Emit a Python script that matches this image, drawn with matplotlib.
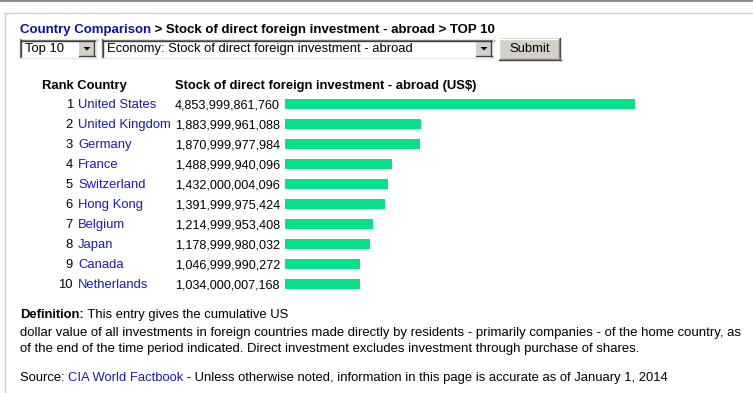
import matplotlib
matplotlib.use("Agg")
import matplotlib.pyplot as plt
import matplotlib.transforms as mtransforms
from matplotlib.patches import Rectangle, Polygon

plt.rcParams['font.family'] = ['Liberation Sans', 'DejaVu Sans']

# data
ranks = [1, 2, 3, 4, 5, 6, 7, 8, 9, 10]
countries = ["United States", "United Kingdom", "Germany", "France", "Switzerland",
             "Hong Kong", "Belgium", "Japan", "Canada", "Netherlands"]
values = [4853999861760, 1883999961088, 1870999977984, 1488999940096, 1432000004096,
          1391999975424, 1214999953408, 1178999980032, 1046999990272, 1034000007168]

W, H = 753, 393
FS = 9.4
LINK = "#1c1c9c"
BAR = "#08e088"
BTN = "#d4d0c8"

fig = plt.figure(figsize=(W / 100, H / 100), dpi=100)
fig.patch.set_facecolor("white")

# page layer in pixel coordinates (top-left origin)
bg = fig.add_axes([0, 0, 1, 1])
bg.set_xlim(0, W)
bg.set_ylim(H, 0)
bg.axis("off")


def right_edge(txt):
    fig.canvas.draw()
    return txt.get_window_extent().x1 * W / fig.bbox.width


# frame lines
bg.plot([0, W], [0.8, 0.8], color="#8c8c8c", lw=1.5)
bg.plot([5, W], [12.5, 12.5], color="#d0d0d0", lw=1)
bg.plot([5.5, 5.5], [12.5, H], color="#d0d0d0", lw=1)

# breadcrumb title
t = bg.text(20, 30, "Country Comparison", color="#10109c", fontsize=FS + 0.1,
            fontweight="bold", va="center")
bg.text(right_edge(t), 30, " > Stock of direct foreign investment - abroad > TOP 10",
        color="black", fontsize=FS + 0.1, fontweight="bold", va="center")


def dropdown(x0, x1, y0, y1, label):
    bg.add_patch(Rectangle((x0, y0), x1 - x0, y1 - y0, facecolor="white", edgecolor="none"))
    bg.plot([x0, x1], [y0 + 0.5, y0 + 0.5], color="#808080", lw=1)
    bg.plot([x0 + 0.5, x0 + 0.5], [y0, y1], color="#808080", lw=1)
    bg.plot([x0 + 1, x1 - 1], [y0 + 1.5, y0 + 1.5], color="#404040", lw=1)
    bg.plot([x0 + 1.5, x0 + 1.5], [y0 + 1, y1 - 1], color="#404040", lw=1)
    bg.plot([x0, x1], [y1 - 0.5, y1 - 0.5], color="#e8e8e8", lw=1)
    bg.plot([x1 - 0.5, x1 - 0.5], [y0, y1], color="#e8e8e8", lw=1)
    # arrow button
    bx0, bx1 = x1 - 18, x1 - 2
    bg.add_patch(Rectangle((bx0, y0 + 2), bx1 - bx0, y1 - y0 - 4, facecolor=BTN,
                           edgecolor="none"))
    bg.plot([bx0, bx1], [y1 - 2.5, y1 - 2.5], color="#404040", lw=1)
    bg.plot([bx1 - 0.5, bx1 - 0.5], [y0 + 2, y1 - 2], color="#404040", lw=1)
    cx, cy = (bx0 + bx1) / 2, (y0 + y1) / 2
    bg.add_patch(Polygon([[cx - 3.5, cy - 1.5], [cx + 3.5, cy - 1.5], [cx, cy + 2]],
                         closed=True, facecolor="black", edgecolor="none"))
    bg.text(x0 + 5, (y0 + y1) / 2 + 0.5, label, fontsize=FS, va="center", color="black")


dropdown(20, 97, 39, 58, "Top 10")
dropdown(102, 494, 39, 58, "Economy: Stock of direct foreign investment - abroad")

# submit button
bg.add_patch(Rectangle((499, 38), 62, 22, facecolor=BTN, edgecolor="none"))
bg.plot([499, 561], [38.5, 38.5], color="white", lw=1)
bg.plot([499.5, 499.5], [38, 60], color="white", lw=1)
bg.plot([499, 561], [59.5, 59.5], color="#404040", lw=1)
bg.plot([560.5, 560.5], [38, 60], color="#404040", lw=1)
bg.plot([500, 560], [58.5, 58.5], color="#808080", lw=1)
bg.plot([559.5, 559.5], [39, 59], color="#808080", lw=1)
bg.text(530, 49.5, "Submit", fontsize=FS, ha="center", va="center", color="black")

# column headers
bg.text(42, 86, "Rank Country", fontsize=FS, fontweight="bold", va="center")
bg.text(175, 86, "Stock of direct foreign investment - abroad (US$)", fontsize=FS,
        fontweight="bold", va="center")

# bar axes: left edge at 285 px, longest bar 350 px, rows 20 px apart
ax = fig.add_axes([285 / W, 1 - 294 / H, 350 / W, 200 / H])
ax.set_xlim(0, max(values))
ax.set_ylim(len(values) - 0.5, -0.5)
ax.axis("off")
pos = list(range(len(values)))
ax.barh(pos, values, height=0.5, color=BAR, edgecolor="none")

# row labels: x in page pixels, y from the bar axis (nudged ~1px down)
px = mtransforms.Affine2D().scale(1 / W, 1) + fig.transFigure
trans = mtransforms.blended_transform_factory(px, ax.transData)
trans = trans + mtransforms.ScaledTranslation(0, -1.2 / 100, fig.dpi_scale_trans)
for i, (r, c, v) in enumerate(zip(ranks, countries, values)):
    ax.text(73, i, str(r), transform=trans, fontsize=FS, ha="right", va="center",
            clip_on=False)
    ax.text(78, i, c, transform=trans, fontsize=FS, ha="left", va="center",
            color=LINK, clip_on=False)
    ax.text(280, i, f"{v:,}", transform=trans, fontsize=FS - 0.3, ha="right",
            va="center", clip_on=False)

# definition + source
d = bg.text(20, 315, "Definition:", fontsize=FS, fontweight="bold", va="center")
bg.text(right_edge(d), 315, " This entry gives the cumulative US", fontsize=FS, va="center")
bg.text(20, 333, "dollar value of all investments in foreign countries made directly by "
        "residents - primarily companies - of the home country, as", fontsize=FS + 0.08,
        va="center")
bg.text(20, 349, "of the end of the time period indicated. Direct investment excludes "
        "investment through purchase of shares.", fontsize=FS + 0.08, va="center")

s = bg.text(20, 378, "Source: ", fontsize=FS, va="center")
s2 = bg.text(right_edge(s), 378, "CIA World Factbook", fontsize=FS, va="center", color=LINK)
bg.text(right_edge(s2), 378, " - Unless otherwise noted, information in this page is "
        "accurate as of January 1, 2014", fontsize=FS, va="center")

fig.savefig("out.png", dpi=100)
